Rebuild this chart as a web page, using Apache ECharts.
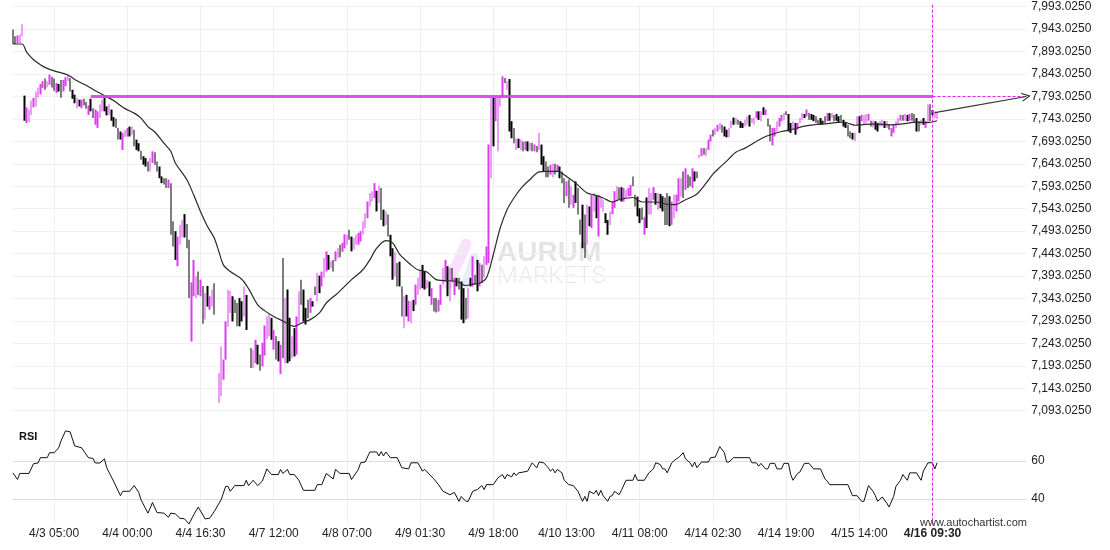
<!DOCTYPE html>
<html><head><meta charset="utf-8">
<script src="https://cdn.jsdelivr.net/npm/echarts@6/dist/echarts.min.js"></script>
<style>html,body{margin:0;padding:0;background:#fff}#c{width:1110px;height:550px}</style>
</head><body><div id="c"></div>
<script>
// ---------- data ----------
const tickIndex = [18,50,82,114,146,178,210,242,274,306,338,370,402];
const tickLabels = ['4/3 05:00','4/4 00:00','4/4 16:30','4/7 12:00','4/8 07:00','4/9 01:30','4/9 18:00','4/10 13:00','4/11 08:00','4/14 02:30','4/14 19:00','4/15 14:00','4/16 09:30'];
const categoryCount = 444;
const priceTicks = [7093.025,7143.025,7193.025,7243.025,7293.025,7343.025,7393.025,7443.025,7493.025,7543.025,7593.025,7643.025,7693.025,7743.025,7793.025,7843.025,7893.025,7943.025,7993.025];
const rsiTicks = [40,60];
const levelPrice = 7793.025;
const levelStart = 34, levelEnd = 402, lastIndex = 443;
const arrowStart = [403, 7757];

const barHigh = [
7942,7927,7929,7931,7954,7795,7769,7764,7784,7790,
7804,7813,7821,7827,7833,7827,7842,7837,7833,7823,
7821,7830,7830,7836,7843,7834,7808,7797,7790,7786,
7786,7788,7781,7773,7788,7767,7764,7760,7775,7786,
7791,7771,7776,7764,7747,7744,7723,7715,7712,7719,
7723,7726,7726,7719,7697,7689,7672,7660,7656,7648,
7656,7671,7669,7648,7637,7615,7611,7611,7608,7600,
7515,7493,7481,7507,7518,7531,7509,7474,7379,7429,
7392,7403,7385,7371,7355,7371,7348,7363,7377,null,
7177,7236,7207,7292,7362,7360,7348,7340,7333,7344,
7337,7370,7351,null,7233,7229,7251,7240,7218,7244,
7283,7303,7311,7300,7273,7259,7248,7240,7433,7344,
7363,7300,7259,7277,7303,7359,7385,7363,7322,7340,
7344,7337,7370,7400,7394,7403,7433,7448,7440,7426,
7429,7448,7455,7463,7467,7486,7485,7496,7481,7478,
7485,7489,7493,7515,7533,7559,7578,7582,7600,7583,
7595,7589,7541,7537,7530,7485,7455,7446,7422,7425,
7370,7348,7351,7338,7337,7340,7374,7389,7407,7418,
7403,7385,7381,7366,7344,7344,7340,7374,7411,7429,
7415,7411,7411,7389,7389,7389,7381,7366,7344,7366,
7389,7437,7396,7429,7422,7418,7437,7459,7686,7791,
7790,7793,7793,7793,7838,7834,7827,7832,7738,7723,
7700,7699,7697,7693,7693,7693,7690,7690,7686,7683,
7712,7686,7660,7648,7637,7641,7643,7643,7641,7637,
7626,7611,7604,7608,7593,7574,7604,7589,7519,7552,
7530,7552,7548,7574,7578,7571,7574,7568,7563,7533,
7518,7537,7559,7582,7593,7591,7591,7589,7585,7589,
7596,7615,7574,7570,7544,7546,7524,7568,7589,7578,
7591,7578,7578,7576,7571,7568,7578,7571,7559,7574,
7574,7611,7611,7626,7633,7619,7615,7633,7626,7626,
7663,7678,7678,7678,7697,7708,7719,7723,7730,7734,
7730,7726,7719,7723,7739,7746,7745,7741,7738,7734,
7741,7749,7752,7745,7745,7760,7760,7760,7769,7764,
7744,7730,7723,7723,7738,7745,7752,7756,7760,7754,
7734,7738,7734,7734,7745,7756,7754,7764,7756,7754,
7752,7749,7741,7745,7739,7749,7756,7756,7756,7752,
7754,7749,7752,7741,7734,7730,7715,7712,7712,7749,
7749,7752,7752,7754,7754,7739,7739,7738,7734,7738,
7741,7738,7738,7730,7723,7730,7738,7745,7752,7752,
7754,7752,7754,7756,7754,7745,7738,7741,7745,7739,
7775,7776,7763,7760,7758];
const barLow = [
7910,7910,7912,7912,7927,7739,7734,7736,7752,7769,
7771,7791,7798,7812,7808,7813,7819,7813,7806,7801,
7804,7790,7804,7816,7827,7804,7788,7778,7767,7771,
7767,7773,7766,7752,7760,7745,7730,7723,7745,7760,
7760,7751,7752,7739,7726,7723,7697,7697,7674,7702,
7704,7704,7708,7682,7674,7671,7652,7641,7637,7626,
7626,7645,7641,7626,7611,7600,7597,7589,7589,7485,
7459,7429,7415,7463,7479,7479,7455,7344,7247,7348,
7344,7351,7348,7287,7296,7325,7318,7325,7307,null,
7110,7125,7162,7207,7280,7311,7292,7311,7281,7281,
7292,7303,7273,null,7188,7188,7199,7196,7182,7192,
7216,7253,7259,7251,7229,7207,7203,7175,7210,7199,
7199,7203,7210,7214,7218,7288,7329,7292,7285,7299,
7311,7325,7351,7337,7355,7370,7389,7403,7407,7411,
7403,7426,7433,7435,7447,7455,7463,7474,7448,7452,
7463,7463,7470,7485,7500,7522,7548,7559,7567,7537,
7556,7518,7504,7507,7481,7437,7385,7392,7370,7370,
7303,7277,7303,7292,7288,7315,7329,7351,7363,7366,
7363,7366,7348,7329,7314,7312,7314,7329,7374,7381,
7348,7337,7381,7351,7370,7363,7296,7288,7296,7299,
7370,7370,7374,7359,7370,7377,7389,7418,7422,7611,
7682,7738,7671,7771,7790,7823,7808,7715,7700,7689,
7674,7678,7674,7671,7674,7671,7674,7671,7671,7669,
7674,7641,7626,7613,7613,7619,7613,7619,7626,7611,
7600,7556,7571,7545,7552,7545,7556,7530,7485,7455,
7433,7463,7504,7500,7537,7522,7481,7545,7537,7511,
7485,7507,7531,7545,7559,7563,7559,7559,7567,7571,
7571,7593,7548,7526,7511,7518,7485,7500,7530,7530,
7563,7552,7541,7544,7537,7507,7507,7504,7507,7522,
7537,7559,7571,7567,7585,7589,7593,7589,7604,7611,
7656,7660,7663,7660,7674,7693,7704,7708,7715,7719,
7712,7704,7702,7702,7723,7730,7732,7730,7723,7723,
7726,7730,7726,7734,7730,7745,7741,7738,7752,7752,
7726,7693,7684,7704,7715,7726,7738,7741,7752,7715,
7712,7719,7708,7719,7734,7741,7745,7749,7741,7741,
7738,7734,7730,7730,7732,7734,7738,7739,7745,7738,
7739,7734,7738,7726,7723,7704,7700,7697,7694,7730,
7712,7738,7730,7734,7739,7726,7724,7719,7715,7726,
7726,7723,7723,7719,7704,7712,7723,7732,7739,7739,
7739,7738,7739,7739,7734,7715,7715,7730,7730,7723,
7734,7738,7751,7745,7743];
const barUp = [
0,0,1,1,1,0,1,1,1,1, 1,1,1,1,0,1,1,0,0,1, 0,0,1,1,1,0,0,0,1,0, 1,0,0,1,0,0,1,1,1,1,
0,0,1,0,0,0,0,0,1,1, 1,0,1,0,0,0,0,0,0,0, 1,1,0,0,0,0,0,0,1,0, 0,0,1,1,1,0,0,0,1,1,
1,0,1,0,1,0,1,1,0,0, 1,1,1,1,1,1,0,0,0,0, 0,1,0,0,0,1,1,0,0,1, 1,1,1,0,1,0,0,1,0,1,
0,0,1,0,1,1,0,0,0,0, 1,0,0,1,0,1,1,1,0,1, 0,1,1,0,1,1,1,0,0,1, 1,1,1,1,1,1,1,1,1,0,
1,0,0,1,0,0,0,1,0,0, 0,1,0,1,1,0,1,1,1,0, 0,1,0,1,0,0,1,1,1,1, 0,1,0,1,0,0,0,0,0,1,
0,1,0,0,1,0,1,1,1,1, 0,1,1,1,1,0,1,0,0,0, 1,0,1,0,1,0,1,0,1,0, 1,0,0,0,0,1,1,0,1,0,
0,0,1,0,1,1,0,0,0,0, 0,1,0,1,1,0,1,1,1,0, 0,1,1,1,1,0,0,1,1,1, 1,0,0,0,0,0,1,0,1,1,
1,0,1,0,0,0,0,0,1,1, 1,1,1,0,1,0,0,1,0,0, 1,1,0,1,1,1,0,1,1,1, 0,0,0,1,1,0,1,0,0,0,
1,1,0,1,1,1,0,1,0,1, 0,0,1,1,1,1,1,1,0,0, 0,1,0,1,1,1,0,1,0,0, 0,0,0,0,0,0,1,0,1,0,
0,0,0,0,0,0,0,0,1,1, 0,1,1,1,1,0,1,0,0,1, 1,0,1,0,1,1,1,1,1,0, 1,0,1,0,0,0,0,1,0,1,
1,0,0,1,1];

const maIndex = [0,4,6,9,12,14,18,23,25,28,32,36,40,44,49,53,56,59,62,66,69,71,76,79,82,85,88,90,92,95,100,103,107,110,114,118,123,126,130,134,137,142,148,153,156,159,163,166,169,174,177,181,185,188,194,198,201,204,207,210,213,216,219,222,226,230,233,238,242,246,251,254,258,262,265,271,275,281,286,289,294,299,303,306,309,312,316,320,325,329,332,336,341,345,350,355,363,366,368,371,377,383,389,395,400,404];
const maValue = [7910,7910,7892,7875,7864,7858,7850,7843,7838,7828,7818,7806,7795,7784,7766,7756,7745,7726,7714,7689,7671,7645,7608,7574,7537,7504,7478,7448,7418,7403,7386,7365,7329,7316,7303,7293,7281,7288,7296,7311,7333,7355,7385,7407,7429,7455,7472,7467,7442,7418,7407,7402,7385,7383,7381,7372,7375,7377,7389,7441,7500,7541,7567,7588,7608,7625,7626,7626,7615,7600,7578,7574,7567,7558,7563,7568,7558,7558,7553,7552,7563,7576,7600,7620,7635,7649,7669,7678,7693,7704,7709,7715,7720,7726,7730,7732,7736,7732,7729,7730,7732,7730,7732,7736,7735,7739];

const rsiIndex = [0,2,3,7,9,11,12,15,16,18,20,21,23,25,27,30,33,35,36,38,40,41,44,47,48,51,53,55,56,59,60,61,63,66,68,69,71,73,75,77,79,81,83,84,86,88,91,93,94,95,97,101,102,103,105,107,109,111,113,116,117,118,120,121,123,125,127,132,133,135,137,140,141,143,147,148,151,152,154,156,159,160,161,162,163,165,168,170,173,174,177,179,180,184,186,188,191,193,195,196,198,199,201,203,205,206,207,210,212,214,215,216,218,219,220,221,223,225,227,229,230,232,234,235,236,237,238,240,241,243,245,247,248,249,250,251,252,254,255,256,257,258,260,261,262,263,265,266,268,271,272,273,276,278,280,281,283,284,285,286,288,290,291,293,294,296,297,298,299,301,304,305,307,309,311,312,313,315,322,323,325,326,327,329,330,331,333,334,336,337,339,340,341,343,344,346,348,350,353,355,356,357,365,367,369,371,372,374,376,377,378,380,382,383,385,386,388,389,391,392,395,397,398,400,402,403,404];
const rsiValue = [53.8,50.3,53.5,53.5,58.6,59,61.8,61.8,64.4,64.4,67,70.6,75.9,75.4,68,67,61.8,61.4,59,59,61.2,56.5,49.4,41.8,44.1,44.1,47.1,43.5,39.6,32.6,35.2,38.2,32.9,32.6,30.4,32.6,32.2,29.9,29.6,26.9,31.7,35.8,31.7,29.6,29.9,33.5,39.6,46.7,46.7,44.1,47.1,47.1,49.9,47.1,49.9,47.1,49.4,55.9,52.9,52.9,55.6,53.5,55.6,52.9,52.9,49.9,44.6,44.6,47.6,47.6,53.5,50.6,55.6,53.5,53.5,50.3,55.6,59.1,59.5,64.8,64.8,62.7,65,62.7,64.8,61.8,61.8,56.5,55.9,59.1,59.1,54.7,55.6,50.6,47.6,44.1,42.3,43.5,38.8,41.4,38.8,38.8,44.1,45,47.1,45,47.6,47.6,51.2,52.9,50.6,52.9,51.7,53.8,52.4,53.8,54.2,54.7,59.1,56.5,59.5,59.1,56.5,54.7,55.9,53.8,55.6,53.8,49.9,47.6,47.1,44.1,41.4,38.8,41.4,38.8,44.1,42.8,44.6,41.8,44.6,41.8,38.8,41.4,41.8,44.1,42.3,44.6,49.9,49.9,52.9,49.9,49.9,53.8,55.9,59.1,58.2,55.9,55.9,53.8,59.1,61.2,61.8,64.4,61.2,59.1,57,59.5,56.5,59.5,59.5,61.8,62.1,67.6,64.4,59.5,59.5,61.8,61.8,59.1,59.1,57.3,58.8,55.9,55.9,58.8,58.8,55.9,55.9,58.8,58.8,52.9,49.9,53.5,54.2,58.8,58.8,55.9,55.9,50.6,49.4,47.6,47.6,41.8,41.8,38.8,38.8,47.1,44.1,41.8,38.8,41.1,37.9,35.8,41.4,46.7,49.9,52.9,49.9,53.8,53.8,49.9,54.7,59.1,59.1,55.9,59.1];

// ---------- build ----------
const MAG = '#dc3cf0';
const DASH = '#e01ef0';
const cats = [];
for (let i = 0; i < categoryCount; i++) cats.push('');
tickIndex.forEach((t, k) => { cats[t] = tickLabels[k]; });
const candles = barHigh.map((h, i) => h == null ? '-' :
  (barUp[i] ? [barLow[i], h, barLow[i], h] : [h, barLow[i], barLow[i], h]));
const maData = maIndex.map((x, k) => [x, maValue[k]]);
const rsiData = rsiIndex.map((x, k) => [x, rsiValue[k]]);
const fmt = v => { const p = v.toFixed(4).split('.'); return p[0].replace(/\B(?=(\d{3})+(?!\d))/g, ',') + '.' + p[1]; };
const isTick = (i, v) => v !== '';
const FONT = 'Arial, "Liberation Sans", sans-serif';
const mainMin = 7066.3, mainMax = 7997.48, rsiMin = 26.5, rsiMax = 80.2;
const chevron = 'path://M5,0 L10,10 L8.6,10 L5,2.8 L1.4,10 L0,10 Z';

const chart = echarts.init(document.getElementById('c'), null, {renderer: 'canvas'});
chart.setOption({
  animation: false,
  backgroundColor: '#fff',
  grid: [
    {left: 12.925, top: 4.72, width: 1013.4, height: 418},
    {left: 12.925, top: 422.72, width: 1013.4, height: 102}
  ],
  xAxis: [
    {gridIndex: 0, type: 'category', data: cats, boundaryGap: false,
     axisLine: {show: false}, axisTick: {show: false}, axisLabel: {show: false},
     splitLine: {show: true, interval: isTick, lineStyle: {color: '#efefef', width: 1}}},
    {gridIndex: 1, type: 'category', data: cats, boundaryGap: false,
     axisLine: {show: false}, axisTick: {show: false},
     axisLabel: {show: true, interval: isTick, margin: 3, color: '#222', fontSize: 12, fontFamily: FONT,
       formatter: v => v === tickLabels[tickLabels.length - 1] ? '{b|' + v + '}' : v,
       rich: {b: {fontWeight: 'bold', fontSize: 12, fontFamily: FONT, color: '#222'}}},
     splitLine: {show: true, interval: isTick, lineStyle: {color: '#efefef', width: 1}}}
  ],
  yAxis: [
    {gridIndex: 0, type: 'value', position: 'right', min: mainMin, max: mainMax,
     axisLine: {show: false}, axisTick: {show: false, customValues: priceTicks},
     axisLabel: {customValues: priceTicks, formatter: fmt, margin: 5, color: '#222', fontSize: 12, fontFamily: FONT},
     splitLine: {show: true, lineStyle: {color: '#f0f0f0', width: 1}}},
    {gridIndex: 1, type: 'value', position: 'right', min: rsiMin, max: rsiMax,
     axisLine: {show: false}, axisTick: {show: false, customValues: rsiTicks},
     axisLabel: {customValues: rsiTicks, margin: 5, color: '#222', fontSize: 12, fontFamily: FONT},
     splitLine: {show: true, lineStyle: {color: '#dddddd', width: 1}}}
  ],
  series: [
    {type: 'candlestick', xAxisIndex: 0, yAxisIndex: 0, data: candles, barWidth: 2, z: 3,
     itemStyle: {color: MAG, color0: '#000', borderColor: MAG, borderColor0: '#000', borderWidth: 0},
     markLine: {silent: true, symbol: ['none', 'none'], animation: false, label: {show: false},
       data: [
         [{coord: [levelStart, levelPrice], lineStyle: {color: MAG, width: 3, type: 'solid', opacity: 0.9}},
          {coord: [levelEnd, levelPrice]}],
         [{coord: [levelEnd, levelPrice], lineStyle: {color: DASH, width: 1, type: [3, 2]}},
          {coord: [lastIndex, levelPrice]}],
         [{coord: [levelEnd, mainMax], lineStyle: {color: DASH, width: 1, type: [3, 2]}},
          {coord: [levelEnd, mainMin]}]
       ]}},
    {type: 'line', xAxisIndex: 0, yAxisIndex: 0, data: maData, showSymbol: false, smooth: 0.3, z: 4,
     lineStyle: {color: '#2a2a2a', width: 1.2},
     markLine: {silent: true, symbol: ['none', chevron], symbolSize: [9, 9], label: {show: false},
       lineStyle: {color: '#333', width: 1.2, type: 'solid'},
       data: [[{coord: arrowStart}, {coord: [lastIndex, levelPrice]}]]}},
    {type: 'line', xAxisIndex: 1, yAxisIndex: 1, data: rsiData, showSymbol: false, z: 4,
     lineStyle: {color: '#111', width: 1},
     markLine: {silent: true, symbol: ['none', 'none'], label: {show: false},
       lineStyle: {color: DASH, width: 1, type: [3, 2]},
       data: [[{coord: [levelEnd, rsiMax]}, {coord: [levelEnd, rsiMin]}]]}}
  ],
  graphic: [
    {type: 'line', z: 0, silent: true, shape: {x1: 466, y1: 244, x2: 448, y2: 284},
     style: {stroke: 'rgba(236,170,240,0.35)', lineWidth: 11, lineCap: 'round'}},
    {type: 'line', z: 0, silent: true, shape: {x1: 474, y1: 258, x2: 466, y2: 284},
     style: {stroke: 'rgba(175,190,250,0.30)', lineWidth: 9, lineCap: 'round'}},
    {type: 'text', z: 0, silent: true, left: 497, top: 239,
     style: {text: 'AURUM', font: 'bold 28px "Liberation Sans", Arial', fill: 'rgba(0,0,0,0.11)'}},
    {type: 'text', z: 0, silent: true, left: 497, top: 265,
     style: {text: 'MARKETS', font: '300 24px Roboto, Lato, sans-serif', fill: 'rgba(0,0,0,0.09)'}},
    {type: 'text', z: 10, silent: true, left: 19, top: 431,
     style: {text: 'RSI', font: 'bold 11px Arial, "Liberation Sans"', fill: '#111'}},
    {type: 'text', z: 10, silent: true, left: 920, top: 517,
     style: {text: 'www.autochartist.com', font: '11px Arial, "Liberation Sans"', fill: '#333'}}
  ]
});
</script>
</body></html>
